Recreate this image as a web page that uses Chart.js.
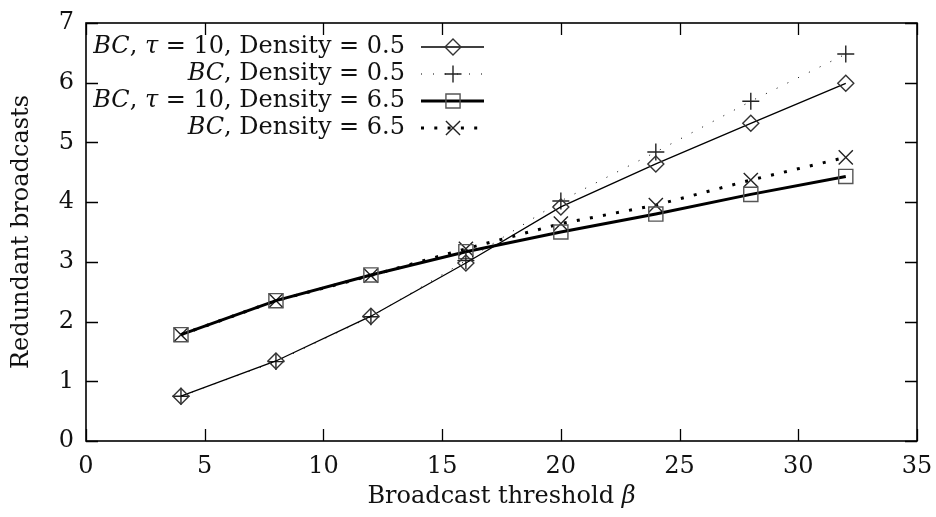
<!DOCTYPE html>
<html>
<head>
<meta charset="utf-8">
<script src="https://cdn.jsdelivr.net/npm/chart.js@4/dist/chart.umd.min.js"></script>
<style>
  html, body { margin: 0; padding: 0; background: #fff; }
  #wrap { width: 936px; height: 517px; }
</style>
</head>
<body>
<div id="wrap"><canvas id="c" width="936" height="517"></canvas></div>
<script>
'use strict';

// Broadcast threshold beta
const thresholds = [4, 8, 12, 16, 20, 24, 28, 32];

// Redundant broadcasts per series
const bcTauDens05 = [0.75, 1.34, 2.09, 2.98, 3.92, 4.64, 5.32, 5.99];
const bcDens05    = [0.75, 1.33, 2.08, 3.02, 4.02, 4.84, 5.69, 6.48];
const bcTauDens65 = [1.78, 2.35, 2.78, 3.17, 3.50, 3.80, 4.13, 4.43];
const bcDens65    = [1.78, 2.35, 2.77, 3.22, 3.64, 3.95, 4.37, 4.75];

// Legend labels: [text, italic?] pieces
const legendLabels = [
  [['BC', true], [', ', false], ['τ', true], [' = 10, Density = 0.5', false]],
  [['BC', true], [', Density = 0.5', false]],
  [['BC', true], [', ', false], ['τ', true], [' = 10, Density = 6.5', false]],
  [['BC', true], [', Density = 6.5', false]],
];

const xTicks = [0, 5, 10, 15, 20, 25, 30, 35];
const yTicks = [0, 1, 2, 3, 4, 5, 6, 7];

const FONT = "'DejaVu Serif', serif";
const FSIZE = 24;
const TEXT = '#111';

const pts = (ys) => thresholds.map((x, i) => ({ x, y: ys[i] }));

const series = [
  { data: bcTauDens05, width: 1.3, dash: [],       style: 'rectRot',  radius: 8,  pcol: '#333' },
  { data: bcDens05,    width: 1,   dash: [1, 11],  style: 'cross',    radius: 8.5, pcol: '#222' },
  { data: bcTauDens65, width: 3,   dash: [],       style: 'rect',     radius: 10, pcol: '#555' },
  { data: bcDens65,    width: 3,   dash: [3, 10.3], style: 'crossRot', radius: 10, pcol: '#222' },
];

// draws a marker for the legend sample
function legendMarker(ctx, style, x, y, r) {
  ctx.beginPath();
  if (style === 'rectRot') {
    ctx.moveTo(x, y - r); ctx.lineTo(x + r, y); ctx.lineTo(x, y + r); ctx.lineTo(x - r, y); ctx.closePath();
  } else if (style === 'cross') {
    ctx.moveTo(x - r, y); ctx.lineTo(x + r, y); ctx.moveTo(x, y - r); ctx.lineTo(x, y + r);
  } else if (style === 'rect') {
    const s = r * Math.SQRT1_2;
    ctx.rect(x - s, y - s, 2 * s, 2 * s);
  } else if (style === 'crossRot') {
    const s = r * Math.SQRT1_2;
    ctx.moveTo(x - s, y - s); ctx.lineTo(x + s, y + s); ctx.moveTo(x - s, y + s); ctx.lineTo(x + s, y - s);
  }
  ctx.stroke();
}

const gnuplotFrame = {
  id: 'gnuplotFrame',
  afterDraw(chart) {
    const { ctx, chartArea: a, scales } = chart;
    ctx.save();
    ctx.strokeStyle = '#000';
    ctx.lineWidth = 1.3;

    // inward ticks on all four sides
    const tl = 12;
    ctx.beginPath();
    xTicks.forEach(v => {
      const px = Math.round(scales.x.getPixelForValue(v)) + 0.5;
      ctx.moveTo(px, a.bottom); ctx.lineTo(px, a.bottom - tl);
      ctx.moveTo(px, a.top); ctx.lineTo(px, a.top + tl);
    });
    yTicks.forEach(v => {
      const py = Math.round(scales.y.getPixelForValue(v)) + 0.5;
      ctx.moveTo(a.left, py); ctx.lineTo(a.left + tl, py);
      ctx.moveTo(a.right, py); ctx.lineTo(a.right - tl, py);
    });
    ctx.stroke();

    // frame
    ctx.lineWidth = 1.6;
    ctx.strokeRect(a.left, a.top, a.right - a.left, a.bottom - a.top);

    // x title with italic beta
    ctx.fillStyle = TEXT;
    ctx.textBaseline = 'middle';
    const t1 = 'Broadcast threshold ';
    ctx.font = `${FSIZE}px ${FONT}`;
    const w1 = ctx.measureText(t1).width;
    ctx.font = `italic ${FSIZE}px ${FONT}`;
    const w2 = ctx.measureText('β').width;
    let sx = (a.left + a.right) / 2 - (w1 + w2) / 2;
    ctx.textAlign = 'left';
    ctx.font = `${FSIZE}px ${FONT}`;
    ctx.fillText(t1, sx, 497);
    ctx.font = `italic ${FSIZE}px ${FONT}`;
    ctx.fillText('β', sx + w1, 497);

    // legend, text right aligned before a line sample
    const textRight = 405, lineL = 421, lineR = 484, mx = 453;
    const rows = [47, 74, 101, 128];
    legendLabels.forEach((parts, i) => {
      const y = rows[i];
      const widths = parts.map(([txt, it]) => {
        ctx.font = `${it ? 'italic ' : ''}${FSIZE}px ${FONT}`;
        return ctx.measureText(txt).width;
      });
      let x = textRight - widths.reduce((s, w) => s + w, 0);
      parts.forEach(([txt, it], j) => {
        ctx.font = `${it ? 'italic ' : ''}${FSIZE}px ${FONT}`;
        ctx.fillText(txt, x, y);
        x += widths[j];
      });
      const s = series[i];
      ctx.strokeStyle = '#000';
      ctx.lineWidth = s.width;
      ctx.setLineDash(s.dash);
      ctx.beginPath(); ctx.moveTo(lineL, y); ctx.lineTo(lineR, y); ctx.stroke();
      ctx.setLineDash([]);
      ctx.strokeStyle = s.pcol;
      ctx.lineWidth = 1.4;
      legendMarker(ctx, s.style, mx, y, s.radius);
    });
    ctx.restore();
  }
};

new Chart(document.getElementById('c'), {
  type: 'line',
  data: {
    datasets: series.map((s, i) => ({
      label: 'series ' + i,
      data: pts(s.data),
      borderColor: '#000',
      borderWidth: s.width,
      borderDash: s.dash,
      tension: 0,
      fill: false,
      pointStyle: s.style,
      pointRadius: s.radius,
      pointBorderColor: s.pcol,
      pointBorderWidth: 1.4,
      pointBackgroundColor: 'rgba(0,0,0,0)',
    })),
  },
  options: {
    responsive: false,
    animation: false,
    devicePixelRatio: 1,
    layout: { padding: { top: 23, right: 19, left: 0, bottom: 0 } },
    plugins: { legend: { display: false }, tooltip: { enabled: false } },
    scales: {
      x: {
        type: 'linear', min: 0, max: 35,
        afterBuildTicks: (sc) => { sc.ticks = xTicks.map(v => ({ value: v })); },
        afterFit: (sc) => { sc.height = 76; sc.paddingLeft = 0; sc.paddingRight = 0; },
        grid: { display: false, drawTicks: false },
        border: { display: false },
        ticks: { color: TEXT, font: { family: FONT, size: FSIZE }, padding: 11, maxRotation: 0 },
      },
      y: {
        min: 0, max: 7,
        afterBuildTicks: (sc) => { sc.ticks = yTicks.map(v => ({ value: v })); },
        afterFit: (sc) => { sc.width = 86; sc.paddingTop = 0; sc.paddingBottom = 0; },
        grid: { display: false, drawTicks: false },
        border: { display: false },
        ticks: { color: TEXT, font: { family: FONT, size: FSIZE }, padding: 12 },
        title: { display: true, text: 'Redundant broadcasts', color: TEXT, font: { family: FONT, size: FSIZE, weight: 'normal' }, padding: { top: 7, bottom: 0 } },
      },
    },
  },
  plugins: [gnuplotFrame],
});
</script>
</body>
</html>
